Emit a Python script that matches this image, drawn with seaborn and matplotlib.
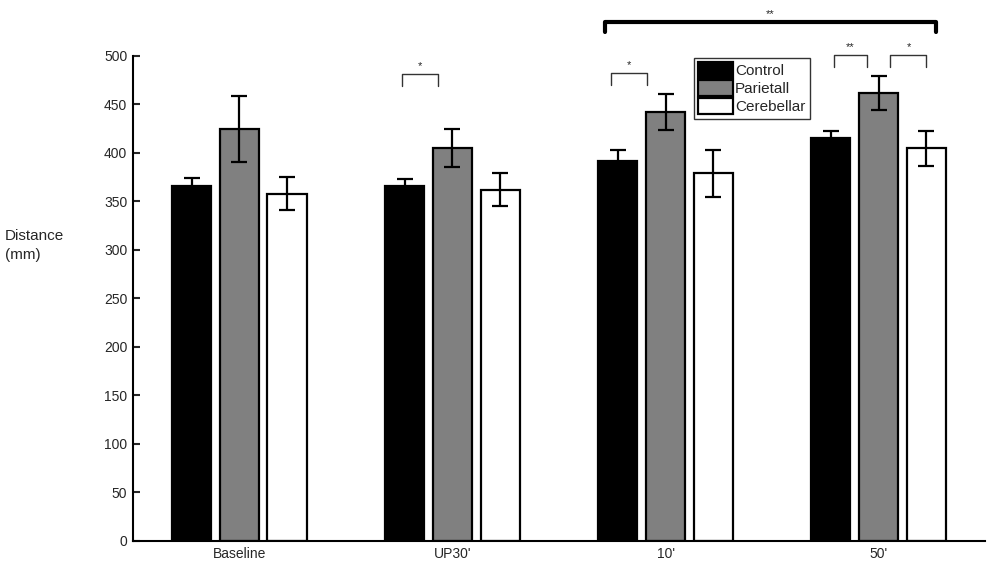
import numpy as np
import pandas as pd
import matplotlib
matplotlib.use('Agg')
import matplotlib.pyplot as plt
import seaborn as sns

# values
conditions = ['Baseline', "UP30'", "10'", "50'"]
groups = ['Control', 'Parietall', 'Cerebellar']
control_mean = [366, 366, 392, 415]
control_err = [8, 7, 11, 8]
parietal_mean = [425, 405, 442, 462]
parietal_err = [34, 19.5, 18.5, 17.5]
cerebellar_mean = [358, 362, 379, 405]
cerebellar_err = [17, 17, 24.5, 18]
colors = ['#000000', '#808080', '#ffffff']

# significance brackets: (group index, left offset, right offset, height, label)
brackets = [
    (1, -0.235, -0.07, 481, '*'),
    (2, -0.258, -0.085, 482, '*'),
    (3, -0.211, -0.052, 501, '**'),
    (3, 0.056, 0.225, 501, '*'),
]

means = [control_mean, parietal_mean, cerebellar_mean]
errs = [control_err, parietal_err, cerebellar_err]
rows = []
for g, m in zip(groups, means):
    for c, v in zip(conditions, m):
        rows.append({'condition': c, 'group': g, 'distance': v})
df = pd.DataFrame(rows)

sns.set_style('white')
plt.rcParams['font.family'] = ['Liberation Sans', 'DejaVu Sans']

fig = plt.figure(figsize=(9.92, 5.64), dpi=100)
ax = fig.add_axes([0.134, 0.0408, 0.859, 0.86])

sns.barplot(data=df, x='condition', y='distance', hue='group',
            palette=colors, edgecolor='black', linewidth=1.6,
            width=0.675, gap=0.17, errorbar=None, ax=ax)

for cont, m, e in zip(ax.containers, means, errs):
    xs = [b.get_x() + b.get_width() / 2 for b in cont]
    ax.errorbar(xs, m, yerr=e, fmt='none', ecolor='black',
                elinewidth=1.6, capsize=6, capthick=1.6, zorder=5)

ax.set_xlim(-0.5, 3.5)
ax.set_ylim(0, 500)
ax.set_yticks(range(0, 501, 50))
ax.set_xlabel('')
ax.set_ylabel('')
ax.tick_params(axis='y', direction='in', length=5, width=1.5,
               labelsize=10, pad=4, left=True)
ax.tick_params(axis='x', length=0, labelsize=10, pad=4)
for s in ['top', 'right']:
    ax.spines[s].set_visible(False)
for s in ['left', 'bottom']:
    ax.spines[s].set_linewidth(1.5)
    ax.spines[s].set_color('black')

fig.text(0.005, 0.565, 'Distance\n(mm)', fontsize=11, ha='left', va='center',
         linespacing=1.4)

# small brackets
for gi, lo, hi, h, lab in brackets:
    x0, x1 = gi + lo, gi + hi
    ax.plot([x0, x0, x1, x1], [h - 12, h, h, h - 12], color='#333333',
            lw=1.0, clip_on=False)
    ax.text((x0 + x1) / 2, h + 3, lab, ha='center', va='bottom', fontsize=8)

# big bracket between 10' and 50'
bx0, bx1, bh = 1.718, 3.268, 535
ax.plot([bx0, bx0, bx1, bx1], [bh - 10, bh, bh, bh - 10], color='black',
        lw=3, clip_on=False, solid_joinstyle='round', solid_capstyle='round')
ax.text((bx0 + bx1) / 2, bh + 3, '**', ha='center', va='bottom', fontsize=8)

handles, labels = ax.get_legend_handles_labels()
leg = ax.legend(handles, labels, loc='upper left', bbox_to_anchor=(0.658, 0.996),
                frameon=True, fontsize=11, fancybox=False, handlelength=2.3,
                handleheight=1.2, handletextpad=0.1, labelspacing=0.12,
                borderpad=0.3, borderaxespad=0)
leg.get_frame().set_edgecolor('black')
leg.get_frame().set_linewidth(1.0)
for p in leg.get_patches():
    p.set_edgecolor('black')
    p.set_linewidth(1.6)

fig.savefig('out.png', dpi=100)
